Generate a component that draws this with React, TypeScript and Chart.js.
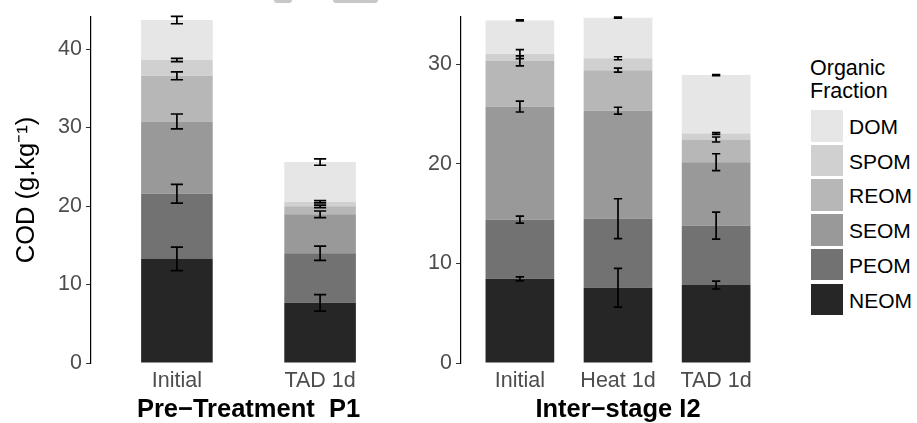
import React, { useEffect, useRef } from "react";
import { Chart, registerables } from "chart.js";

Chart.register(...registerables);

// ---------- DATA ----------
const fractions = ["NEOM", "PEOM", "SEOM", "REOM", "SPOM", "DOM"];
const fractionColors = ["#262626", "#727272", "#999999", "#B7B7B7", "#D0D0D0", "#E6E6E6"];

// Pre-Treatment P1
const p1Categories = ["Initial", "TAD 1d"];
const p1Neom = [13.26, 7.67];
const p1Peom = [8.3, 6.31];
const p1Seom = [9.22, 4.97];
const p1Reom = [5.81, 1.01];
const p1Spom = [2.02, 0.59];
const p1Dom = [5.09, 5.05];
const p1NeomErr = [1.5, 1.05];
const p1PeomErr = [1.2, 0.9];
const p1SeomErr = [0.95, 0.42];
const p1ReomErr = [0.5, 0.15];
const p1SpomErr = [0.2, 0.15];
const p1DomErr = [0.47, 0.4];
const p1YTicks = [0, 10, 20, 30, 40];
const p1YMax = 44.1;

// Inter-stage I2
const i2Categories = ["Initial", "Heat 1d", "TAD 1d"];
const i2Neom = [8.45, 7.56, 7.83];
const i2Peom = [5.94, 6.93, 5.96];
const i2Seom = [11.36, 10.84, 6.37];
const i2Reom = [4.58, 4.07, 2.28];
const i2Spom = [0.69, 1.2, 0.6];
const i2Dom = [3.38, 4.07, 5.87];
const i2NeomErr = [0.2, 1.95, 0.4];
const i2PeomErr = [0.35, 2.0, 1.35];
const i2SeomErr = [0.55, 0.35, 0.85];
const i2ReomErr = [0.5, 0.2, 0.25];
const i2SpomErr = [0.45, 0.15, 0.1];
const i2DomErr = [0.05, 0.05, 0.05];
const i2YTicks = [0, 10, 20, 30];
const i2YMax = 34.75;

const p1Series = [p1Neom, p1Peom, p1Seom, p1Reom, p1Spom, p1Dom];
const p1Errors = [p1NeomErr, p1PeomErr, p1SeomErr, p1ReomErr, p1SpomErr, p1DomErr];
const i2Series = [i2Neom, i2Peom, i2Seom, i2Reom, i2Spom, i2Dom];
const i2Errors = [i2NeomErr, i2PeomErr, i2SeomErr, i2ReomErr, i2SpomErr, i2DomErr];

const FONT = "'Liberation Sans', Arial, Helvetica, sans-serif";

function makeErrorPlugin(series: number[][], errors: number[][], capUnits: number) {
  return {
    id: "stackErrorBars",
    afterDatasetsDraw(chart: any) {
      const ctx = chart.ctx;
      const ys = chart.scales.y;
      const xs = chart.scales.x;
      const capHalf = Math.abs(xs.getPixelForValue(1 + capUnits / 2) - xs.getPixelForValue(1));
      ctx.save();
      ctx.strokeStyle = "#000000";
      ctx.lineWidth = 1.7;
      series.forEach((vals, d) => {
        const meta = chart.getDatasetMeta(d);
        vals.forEach((_, j) => {
          let cum = 0;
          for (let k = 0; k <= d; k++) cum += series[k][j];
          const e = errors[d][j];
          const x = meta.data[j].x;
          const yT = ys.getPixelForValue(cum + e);
          const yB = ys.getPixelForValue(cum - e);
          ctx.beginPath();
          ctx.moveTo(x, yT);
          ctx.lineTo(x, yB);
          ctx.moveTo(x - capHalf, yT);
          ctx.lineTo(x + capHalf, yT);
          ctx.moveTo(x - capHalf, yB);
          ctx.lineTo(x + capHalf, yB);
          ctx.stroke();
        });
      });
      ctx.restore();
    },
  };
}

function buildConfig(opts: {
  cats: string[];
  series: number[][];
  errors: number[][];
  yTicks: number[];
  yMax: number;
  barPct: number;
  facet: string;
  yWidth: number;
  padRight: number;
  yTitle?: string;
}) {
  const { cats, series, errors, yTicks, yMax, barPct, facet, yWidth, padRight, yTitle } = opts;
  return {
    type: "bar",
    data: {
      datasets: fractions.map((f, i) => ({
        label: f,
        data: series[i].map((v, j) => ({ x: j + 1, y: v })),
        backgroundColor: fractionColors[i],
        borderWidth: 0,
        barPercentage: barPct,
        categoryPercentage: 1,
      })),
    },
    options: {
      animation: false,
      responsive: false,
      events: [],
      layout: { padding: { top: 13, right: padRight, left: 0, bottom: 0 } },
      plugins: { legend: { display: false }, tooltip: { enabled: false } },
      scales: {
        x: {
          type: "linear",
          stacked: true,
          offset: false,
          min: 0.4,
          max: cats.length + 0.6,
          afterBuildTicks: (s: any) => {
            s.ticks = cats.map((_, i) => ({ value: i + 1 }));
          },
          afterFit: (s: any) => {
            s.height = 60;
          },
          ticks: {
            callback: (v: any) => cats[Math.round(Number(v)) - 1],
            font: { family: FONT, size: 21.5 },
            color: "#4D4D4D",
            padding: 5,
            autoSkip: false,
            maxRotation: 0,
          },
          grid: { display: false, drawTicks: false, offset: false },
          border: { display: false },
          title: {
            display: true,
            text: facet,
            font: { family: FONT, size: 25.5, weight: "bold", lineHeight: 1.05 },
            color: "#000000",
            padding: { top: 0, bottom: 0 },
          },
        },
        y: {
          stacked: true,
          min: 0,
          max: yMax,
          afterBuildTicks: (s: any) => {
            s.ticks = yTicks.map((v) => ({ value: v }));
          },
          afterFit: (s: any) => {
            s.width = yWidth;
          },
          ticks: {
            font: { family: FONT, size: 21.5 },
            color: "#4D4D4D",
            padding: 4,
          },
          grid: { drawOnChartArea: false, drawTicks: true, tickLength: 5, color: "#333333", lineWidth: 1 },
          border: { display: true, color: "#000000", width: 1.2 },
          title: yTitle
            ? {
                display: true,
                text: yTitle,
                font: { family: FONT, size: 25.5 },
                color: "#000000",
                padding: { top: 12, bottom: 0 },
              }
            : { display: false },
        },
      },
    },
    plugins: [makeErrorPlugin(series, errors, 0.085)],
  } as any;
}

export default function App() {
  const leftRef = useRef<HTMLCanvasElement>(null);
  const rightRef = useRef<HTMLCanvasElement>(null);

  useEffect(() => {
    const c1 = new Chart(
      leftRef.current as HTMLCanvasElement,
      buildConfig({
        cats: p1Categories,
        series: p1Series,
        errors: p1Errors,
        yTicks: p1YTicks,
        yMax: p1YMax,
        barPct: 0.5,
        facet: "Pre\u2212Treatment  P1",
        yWidth: 91,
        padRight: 4,
        yTitle: "COD (g.kg\u207B\u00B9)",
      })
    );
    const c2 = new Chart(
      rightRef.current as HTMLCanvasElement,
      buildConfig({
        cats: i2Categories,
        series: i2Series,
        errors: i2Errors,
        yTicks: i2YTicks,
        yMax: i2YMax,
        barPct: 0.7,
        facet: "Inter\u2212stage I2",
        yWidth: 61,
        padRight: 5,
      })
    );
    return () => {
      c1.destroy();
      c2.destroy();
    };
  }, []);

  const legendItems = fractions.map((f, i) => ({ f, c: fractionColors[i] })).reverse();

  return (
    <div
      style={{
        position: "fixed",
        left: 0,
        top: 0,
        width: 917,
        height: 423,
        background: "#ffffff",
        overflow: "hidden",
        fontFamily: FONT,
      }}
    >
      <div style={{ position: "absolute", left: 274, top: 0, width: 18, height: 3, background: "#c8c8c8", borderRadius: "0 0 3px 3px" }} />
      <div style={{ position: "absolute", left: 333, top: 0, width: 45, height: 3, background: "#c8c8c8", borderRadius: "0 0 3px 3px" }} />
      <canvas ref={leftRef} width={410} height={423} style={{ position: "absolute", left: 0, top: 0, width: 410, height: 423 }} />
      <canvas ref={rightRef} width={380} height={423} style={{ position: "absolute", left: 400, top: 0, width: 380, height: 423 }} />
      <div style={{ position: "absolute", left: 810, top: 57, fontSize: 21.5, lineHeight: "22.6px", color: "#000" }}>
        Organic
        <br />
        Fraction
      </div>
      {legendItems.map((it, k) => (
        <React.Fragment key={it.f}>
          <div
            style={{
              position: "absolute",
              left: 811,
              top: 110 + k * 34.7,
              width: 32,
              height: 31.7,
              background: it.c,
            }}
          />
          <div
            style={{
              position: "absolute",
              left: 849,
              top: 111 + k * 34.7,
              height: 31.7,
              lineHeight: "31.7px",
              fontSize: 21,
              color: "#000",
              whiteSpace: "nowrap",
            }}
          >
            {it.f}
          </div>
        </React.Fragment>
      ))}
    </div>
  );
}
